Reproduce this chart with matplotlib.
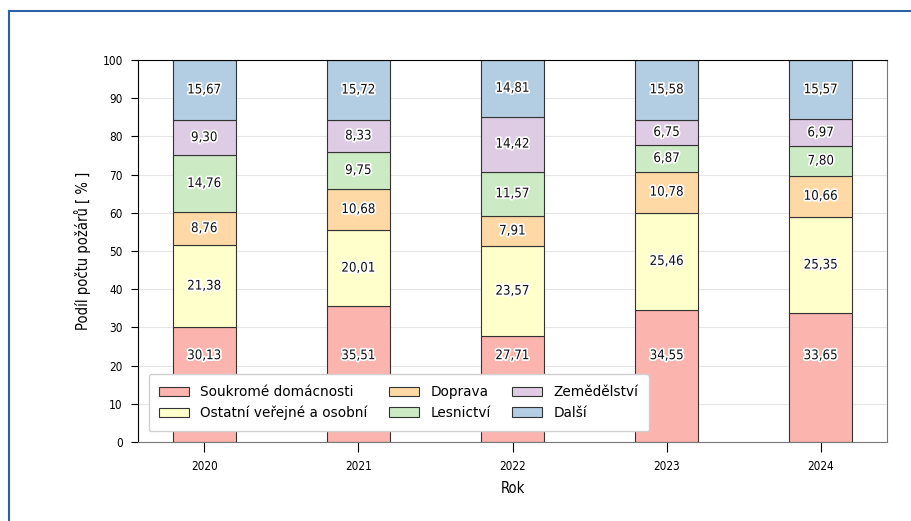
import matplotlib
matplotlib.use("Agg")
import matplotlib.pyplot as plt
import matplotlib.patheffects as pe
from matplotlib.lines import Line2D
import numpy as np

years = ["2020", "2021", "2022", "2023", "2024"]
categories = ["Soukromé domácnosti", "Ostatní veřejné a osobní", "Doprava",
              "Lesnictví", "Zemědělství", "Další"]
soukrome = [30.13, 35.51, 27.71, 34.55, 33.65]
ostatni = [21.38, 20.01, 23.57, 25.46, 25.35]
doprava = [8.76, 10.68, 7.91, 10.78, 10.66]
lesnictvi = [14.76, 9.75, 11.57, 6.87, 7.80]
zemedelstvi = [9.30, 8.33, 14.42, 6.75, 6.97]
dalsi = [15.67, 15.72, 14.81, 15.58, 15.57]
series = [soukrome, ostatni, doprava, lesnictvi, zemedelstvi, dalsi]
colors = ["#fbb4ae", "#ffffcc", "#fed9a6", "#ccebc5", "#decbe4", "#b3cde3"]

fig = plt.figure(figsize=(9.12, 5.21), dpi=100)
ax = fig.add_axes([138/912, 1-442/521, (887-138)/912, (442-60)/521])

x = np.arange(len(years))
bottom = np.zeros(len(years))
cond = dict(family="DejaVu Sans", stretch="condensed")
for k, (name, vals, c) in enumerate(zip(categories, series, colors)):
    vals = np.array(vals)
    ax.bar(x, vals, 0.41, bottom=bottom, color=c, edgecolor="#333333",
           linewidth=0.8, label=name, zorder=2)
    for xi, b, v in zip(x, bottom, vals):
        # bottom series labels are lifted above the legend box
        ypos = 22.6 if k == 0 else b + v/2
        t = ax.text(xi, ypos, f"{v:.2f}".replace(".", ","), ha="center", va="center",
                    fontsize=9.5, color="#111111", zorder=4, **cond)
        t.set_path_effects([pe.withStroke(linewidth=2.5, foreground="white")])
    bottom += vals

ax.set_xlim(-0.43, 4.43)
ax.set_ylim(0, 100)
ax.set_yticks(range(0, 101, 10))
ax.set_xticks(x)
ax.set_xticklabels(years)
for lab in ax.get_xticklabels() + ax.get_yticklabels():
    lab.set_fontsize(8.5)
    lab.set_fontstretch("condensed")
ax.tick_params(axis="x", length=7, pad=6)
ax.tick_params(axis="y", length=5, pad=6)
ax.grid(axis="y", color="#e6e6e6", linewidth=0.8, zorder=0)
ax.set_axisbelow(True)
for s in ["right", "bottom"]:
    ax.spines[s].set_color("#777777")
ax.set_xlabel("Rok", fontsize=10.5, labelpad=6, **cond)
ax.set_ylabel("Podíl počtu požárů [ % ]", fontsize=10.5, labelpad=8, **cond)

leg = ax.legend(ncol=3, loc="lower left", bbox_to_anchor=(0.005, 0.01), fontsize=9.8,
                frameon=True, fancybox=True, edgecolor="#d0d0d0", framealpha=1,
                columnspacing=1.6, handlelength=2.2, borderpad=0.8)
leg.set_zorder(5)

fig.add_artist(Line2D([9/912, 1], [1-11/521, 1-11/521], color="#2a62a8", linewidth=1.5))
fig.add_artist(Line2D([9/912, 9/912], [0, 1-11/521], color="#2a62a8", linewidth=1.5))

fig.savefig("out.png", dpi=100)
